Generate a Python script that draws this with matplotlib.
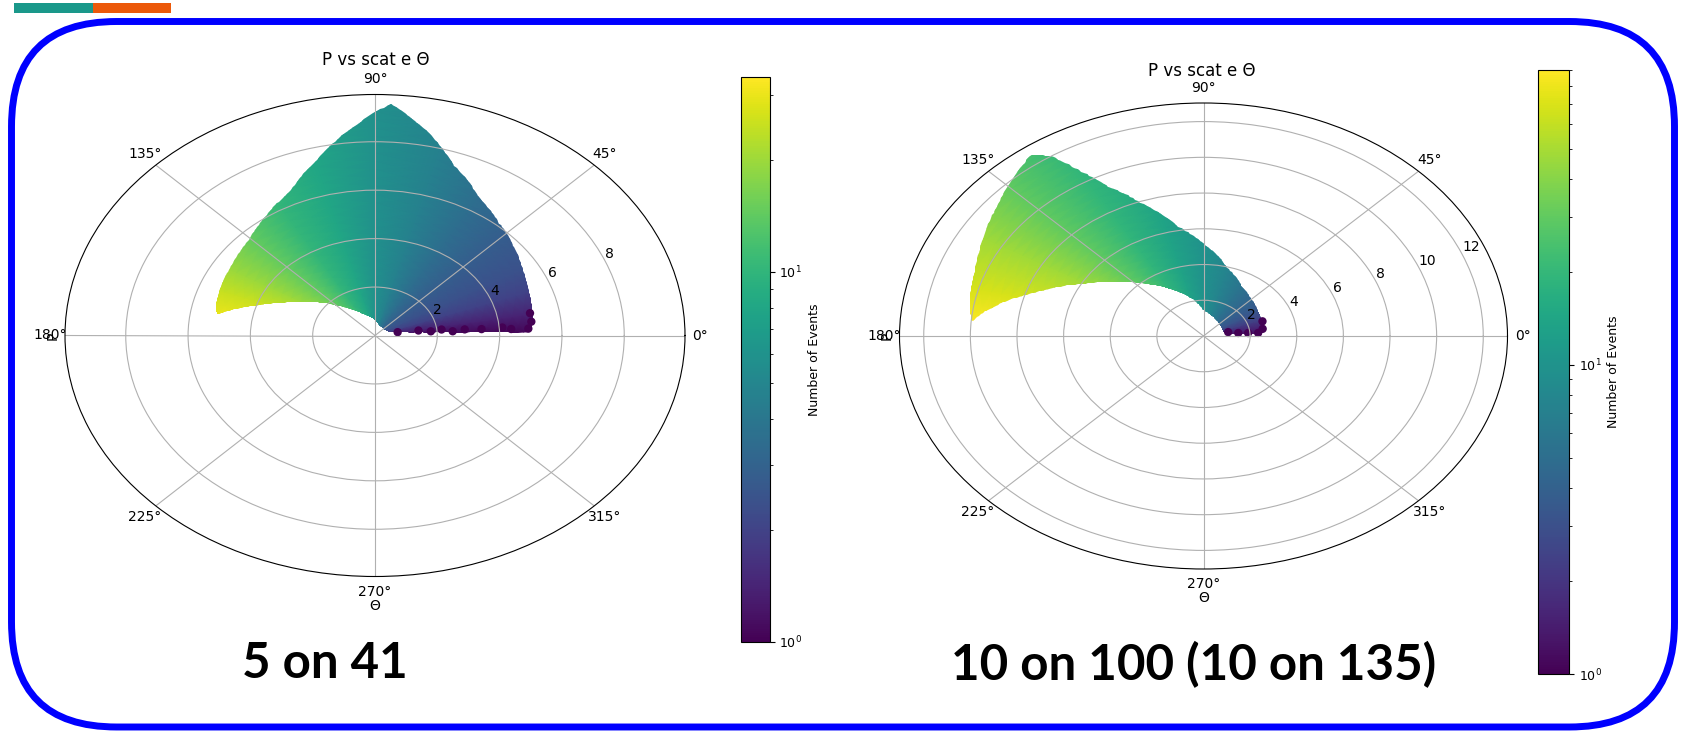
import numpy as np
import matplotlib
matplotlib.use('Agg')
import matplotlib.pyplot as plt
from matplotlib.colors import LogNorm
from matplotlib.patches import FancyBboxPatch, Rectangle, PathPatch
from matplotlib.path import Path
import matplotlib.cm as cm

# ---------------- data ----------------
# Left panel: "5 on 41"  -- P range per scattering angle
theta_L = [1.5, 2.5, 4, 6, 10, 15, 20, 30, 40, 50, 60, 70, 80, 87, 95, 105, 115, 125, 135, 145, 155, 162, 167, 170]
p_max_L = [4.95, 5.0, 5.05, 5.1, 5.14, 5.2, 5.26, 5.47, 5.78, 6.14, 6.63, 7.46, 8.74, 9.58, 8.6, 7.42, 6.52, 6.07, 5.67, 5.48, 5.37, 5.3, 5.25, 5.15]
p_min_L = [4.6, 2.75, 1.72, 1.15, 0.69, 0.5, 0.45, 0.4, 0.38, 0.38, 0.4, 0.42, 0.5, 0.6, 0.7, 0.82, 1.0, 1.3, 1.75, 2.4, 3.2, 4.0, 4.7, 5.1]
theta_cnt_L = [0, 10, 20, 30, 45, 60, 75, 90, 105, 120, 135, 150, 160, 170]
events_L = [1.0, 1.4, 2.0, 2.4, 2.8, 3.5, 4.6, 5.8, 8.0, 10.2, 14.4, 20, 25, 30]
dot_theta_L = [10.8, 8.4, 6.6, 5.0, 4.4, 4.6, 3.5, 3.3, 6.5, 10.5, 4.0, 5.5]
dot_p_L = [0.74, 1.41, 2.15, 2.89, 3.43, 4.10, 4.38, 4.93, 5.05, 5.06, 2.5, 1.8]
vmax_L = 33.5
rmax_L = 9.95
rticks_L = [2, 4, 6, 8]

# Right panel: "10 on 100 (10 on 135)"
theta_R = [2, 5, 10, 20, 30, 45, 60, 75, 90, 100, 110, 116, 120, 123, 126, 130, 140, 150, 160, 166, 171, 175]
p_max_R = [2.5, 2.56, 2.6, 2.65, 2.72, 2.9, 3.25, 3.95, 5.15, 6.2, 7.95, 9.3, 10.7, 12.0, 12.55, 12.25, 11.5, 10.9, 10.45, 10.3, 10.15, 10.0]
p_min_R = [2.4, 1.05, 0.9, 0.88, 0.9, 0.95, 1.05, 1.2, 1.43, 1.96, 2.5, 2.82, 3.08, 3.3, 3.5, 3.78, 4.72, 5.85, 7.38, 8.49, 9.37, 9.95]
theta_cnt_R = [0, 10, 20, 30, 45, 60, 75, 90, 105, 120, 135, 150, 165, 175]
events_R = [1.1, 1.5, 2.3, 3.2, 4.3, 5.6, 7.6, 9.7, 13.5, 19.5, 30, 47, 68, 88]
dot_theta_R = [11.7, 6.5, 5.0, 4.2, 9.0, 18.0]
dot_p_R = [1.08, 1.50, 1.92, 2.35, 2.57, 2.66]
vmax_R = 90
rmax_R = 13.04
rticks_R = [2, 4, 6, 8, 10, 12]

title_text = "P vs scat e \u0398"
caption_L = "5 on 41"
caption_R = "10 on 100 (10 on 135)"

# ---------------- figure ----------------
W, H = 1683, 731
fig = plt.figure(figsize=(W / 100, H / 100), dpi=100)
fig.patch.set_facecolor('white')

bg = fig.add_axes([0, 0, 1, 1], zorder=-5)
bg.set_xlim(0, W)
bg.set_ylim(0, H)
bg.axis('off')
bg.add_patch(FancyBboxPatch((11.5, 4), 1663, 705.5,
                            boxstyle="round,pad=0,rounding_size=105",
                            fill=False, ec='#0000ff', lw=5.0))
bg.add_patch(Rectangle((14, H - 13), 79, 10, color='#1a988a', lw=0))
bg.add_patch(Rectangle((93, H - 13), 78, 10, color='#ec590a', lw=0))


def px_rect(left, top, right, bottom):
    return [left / W, 1 - bottom / H, (right - left) / W, (bottom - top) / H]


cmap = plt.get_cmap('viridis')


def panel(rect, cax_rect, rmax, rticks, th, pmin, pmax, thc, cnt, dth, dp,
          vmax, title_xy, caption, cap_xy):
    ax = fig.add_axes(rect, projection='polar')
    ax.set_aspect('auto')
    norm = LogNorm(vmin=1, vmax=vmax)

    tc = np.radians(thc)
    rr = np.linspace(0.05, rmax, 30)
    T, R = np.meshgrid(tc, rr)
    C = np.tile(np.asarray(cnt, float), (len(rr), 1))
    mesh = ax.pcolormesh(T, R, C, shading='gouraud', cmap=cmap, norm=norm, zorder=1)

    th = np.asarray(th, float)
    verts = np.column_stack([np.radians(np.r_[th, th[::-1]]),
                             np.r_[pmax, np.asarray(pmin)[::-1]]])
    verts = np.vstack([verts, verts[:1]])
    path = Path(verts, closed=True, _interpolation_steps=12)
    clip = PathPatch(path, transform=ax.transData)
    mesh.set_clip_path(clip)

    ax.scatter(np.radians(dth), dp, c=np.ones(len(dth)), cmap=cmap, norm=norm,
               s=36, edgecolors='none', zorder=1.2)

    ax.set_ylim(0, rmax)
    ax.set_yticks(rticks)
    ax.set_rlabel_position(22.5)
    ax.tick_params(labelsize=10)
    ax.tick_params(axis='x', pad=0.5)
    ax.grid(True, color='#b0b0b0', lw=0.8)
    ax.set_xlabel('\u0398', fontsize=10, labelpad=0)
    ax.set_ylabel('P', fontsize=10)

    fig.text(title_xy[0] / W, 1 - title_xy[1] / H, title_text, fontsize=12,
             ha='center', va='center')

    cax = fig.add_axes(cax_rect)
    cb = fig.colorbar(cm.ScalarMappable(norm=norm, cmap=cmap), cax=cax)
    cb.set_label('Number of Events', fontsize=9, labelpad=4)
    cb.ax.tick_params(labelsize=9)
    cb.outline.set_linewidth(0.8)

    fig.text(cap_xy[0] / W, 1 - cap_xy[1] / H, caption, fontsize=35.5,
             fontweight='bold', family=['Lato', 'DejaVu Sans'],
             ha='center', va='baseline')
    return ax


panel(px_rect(65, 94.5, 685, 576.5), px_rect(740.6, 77.3, 769.6, 641.9),
      rmax_L, rticks_L, theta_L, p_min_L, p_max_L, theta_cnt_L, events_L,
      dot_theta_L, dot_p_L, vmax_L, (376, 60), caption_L, (324.7, 678))

panel(px_rect(899.5, 103, 1507.5, 569), px_rect(1538, 69.8, 1569, 674),
      rmax_R, rticks_R, theta_R, p_min_R, p_max_R, theta_cnt_R, events_R,
      dot_theta_R, dot_p_R, vmax_R, (1202, 71), caption_R, (1194, 680))

fig.savefig('out.png', dpi=100, facecolor='white')
